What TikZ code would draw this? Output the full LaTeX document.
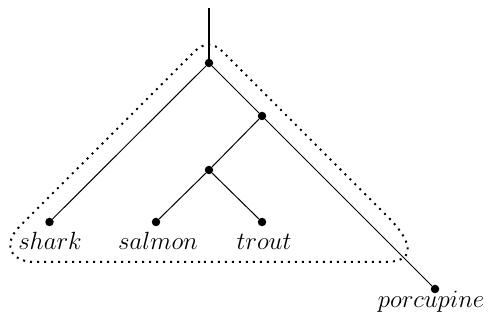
\documentclass[tikz,border=0pt]{standalone}
\begin{document}
\begin{tikzpicture}[x=1pt,y=-1pt,
  dot/.style={circle,fill,inner sep=0pt,minimum size=8.5pt},
  edge/.style={line width=1pt},
  stem/.style={line width=1.9pt},
  lbl/.style={font=\fontsize{25.5}{30}\selectfont,inner sep=0pt,anchor=base},
  outline/.style={line width=2pt,dash pattern=on 2pt off 5pt}]
\useasboundingbox (0,0) rectangle (491,320);
\coordinate (top) at (209,8);
\node[dot] (r) at (209,63) {};
\node[dot] (b) at (262,116) {};
\node[dot] (c) at (209,170) {};
\node[dot] (sh) at (49.5,222) {};
\node[dot] (sa) at (156,222) {};
\node[dot] (tr) at (262,222) {};
\node[dot] (po) at (435,289) {};
\draw[stem] (top) -- (r.center);
\draw[edge] (r) -- (sh);
\draw[edge] (r) -- (b);
\draw[edge] (b) -- (po);
\draw[edge] (b) -- (c);
\draw[edge] (c) -- (sa);
\draw[edge] (c) -- (tr);
\node[lbl] (lsh) at (50,250) {$shark$};
\node[lbl] (lsa) at (158,250) {$salmon$};
\node[lbl] (ltr) at (264,250) {$trout$};
\node[lbl] (lpo) at (431,308) {$porcupine$};
\draw[outline] (200,262) -- (35,262)
  .. controls (10,262) and (2,244) .. (20,226)
  -- (191,55)
  .. controls (204,41) and (213,41) .. (226,55)
  -- (387,216)
  .. controls (415,244) and (415,262) .. (385,262)
  -- cycle;
\end{tikzpicture}
\end{document}
